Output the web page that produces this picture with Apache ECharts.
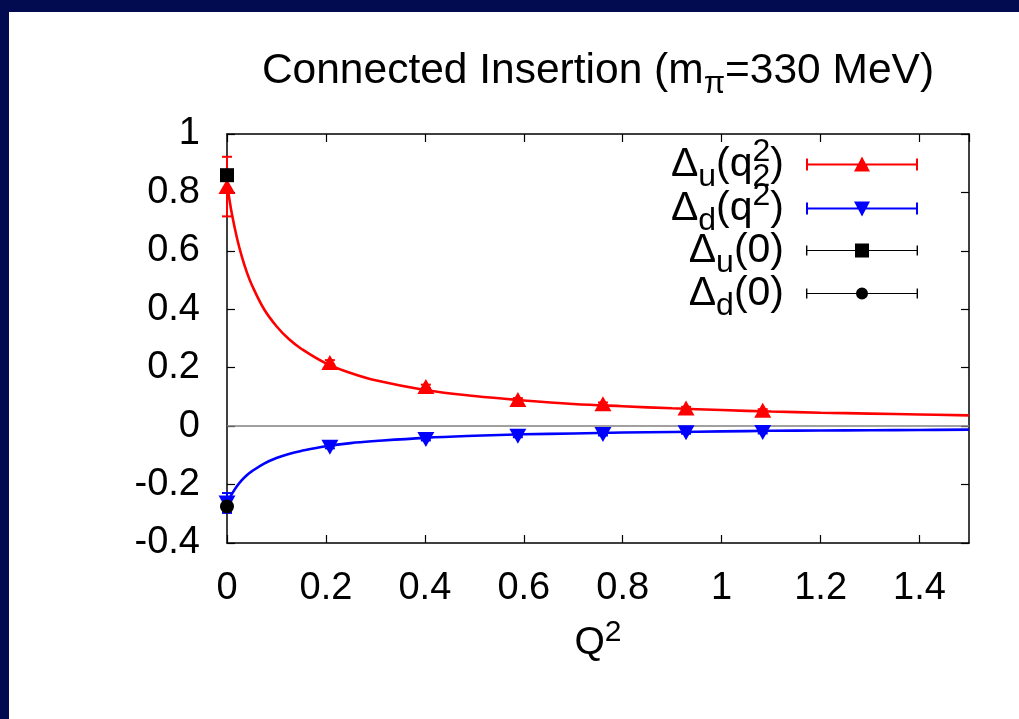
<!DOCTYPE html>
<html>
<head>
<meta charset="utf-8">
<script src="https://cdn.jsdelivr.net/npm/echarts@6/dist/echarts.min.js"></script>
<style>
html,body{margin:0;padding:0;background:#fff;}
#c{width:1019px;height:719px;}
</style>
</head>
<body>
<div id="c"></div>
<script>
// ---- data ----
const q2Lattice = [0, 0.208, 0.402, 0.588, 0.760, 0.928, 1.083];
const duValues = [0.82, 0.218, 0.136, 0.091, 0.077, 0.062, 0.054];
const duErrors = [0.102, 0.008, 0.006, 0.005, 0.004, 0.004, 0.004];
const ddValues = [-0.263, -0.072, -0.046, -0.035, -0.029, -0.023, -0.022];
const ddErrors = [0.034, 0.004, 0.003, 0.003, 0.003, 0.003, 0.003];
const du0Point = [0, 0.859];
const du0Error = [0.01];
const dd0Point = [0, -0.275];
const dd0Error = [0.01];
const fitQ2 = [0, 0.005, 0.01, 0.02, 0.03, 0.04, 0.05, 0.075, 0.1, 0.125, 0.15, 0.2, 0.25, 0.3, 0.4, 0.5, 0.6, 0.7, 0.8, 0.9, 1.0, 1.1, 1.2, 1.3, 1.4, 1.5];
const fitDu = [0.83, 0.775, 0.725, 0.645, 0.580, 0.527, 0.484, 0.400, 0.342, 0.298, 0.265, 0.215, 0.182, 0.157, 0.124, 0.103, 0.088, 0.076, 0.068, 0.061, 0.055, 0.050, 0.046, 0.043, 0.040, 0.037];
const fitDd = [-0.265, -0.247, -0.232, -0.206, -0.185, -0.168, -0.155, -0.128, -0.109, -0.095, -0.085, -0.069, -0.058, -0.051, -0.040, -0.033, -0.028, -0.025, -0.022, -0.020, -0.018, -0.016, -0.015, -0.014, -0.013, -0.012];
const xTicks = ['0', '0.2', '0.4', '0.6', '0.8', '1', '1.2', '1.4'];
const yTicks = ['-0.4', '-0.2', '0', '0.2', '0.4', '0.6', '0.8', '1'];
const seriesNames = ['du', 'dd', 'du0', 'dd0'];
const seriesColors = {du: '#ff0000', dd: '#0000ff', du0: '#000000', dd0: '#000000'};

const FONT = 'Liberation Sans';
const zip = (xs, ys) => xs.map((x, i) => [x, ys[i]]);
const errData = (xs, ys, es) => xs.map((x, i) => [x, ys[i], es[i]]);

function errorBarSeries(name, data, color, width) {
  return {
    type: 'custom', name: name, data: data, z: 3,
    itemStyle: {color: color},
    encode: {x: 0, y: 1},
    renderItem: function (params, api) {
      const x = api.value(0), y = api.value(1), e = api.value(2);
      const p1 = api.coord([x, y - e]);
      const p2 = api.coord([x, y + e]);
      const cw = 5;
      const st = {stroke: color, lineWidth: width};
      return {type: 'group', children: [
        {type: 'line', shape: {x1: p1[0], y1: p1[1], x2: p2[0], y2: p2[1]}, style: st},
        {type: 'line', shape: {x1: p1[0] - cw, y1: p1[1], x2: p1[0] + cw, y2: p1[1]}, style: st},
        {type: 'line', shape: {x1: p2[0] - cw, y1: p2[1], x2: p2[0] + cw, y2: p2[1]}, style: st}
      ]};
    }
  };
}

const legendLine = 'M0 7 H112 V9 H0 Z M0 2 H2 V14 H0 Z M110 2 H112 V14 H110 Z ';
const legendLineThin = 'M0 7.4 H112 V8.6 H0 Z M0 3 H1.4 V13 H0 Z M110.6 3 H112 V13 H110.6 Z ';
const icons = {
  du: 'path://M0 0 H0.01 V16 H0 Z ' + legendLine + 'M56 0 L64 15 L48 15 Z',
  dd: 'path://M0 0 H0.01 V16 H0 Z ' + legendLine + 'M48 1 L64 1 L56 16 Z',
  du0: 'path://M0 0 H0.01 V16 H0 Z ' + legendLineThin + 'M49 1 H63 V15 H49 Z',
  dd0: 'path://M0 0 H0.01 V16 H0 Z ' + legendLineThin + 'M62 8 A6 6 0 1 1 50 8 A6 6 0 1 1 62 8 Z'
};
const legendLabels = {
  du: '{n|Δ}{s|u}{n|(q}{sp|2}{s|2}{n|)}{g|}',
  dd: '{n|Δ}{s|d}{n|(q}{sp| }{sup|2}{n|)}{g|}',
  du0: '{n|Δ}{s|u}{n|(0)}{sp| }{g|}',
  dd0: '{n|Δ}{s|d}{n|(0)}{sp| }{g|}'
};
const legendRowTops = [136, 180, 222, 265];

const chart = echarts.init(document.getElementById('c'), null, {renderer: 'canvas'});
const axisCommon = {
  axisLine: {show: true, onZero: false, lineStyle: {color: '#000', width: 1.5}},
  axisTick: {show: true, inside: true, length: 8, lineStyle: {color: '#000', width: 1.2}},
  splitLine: {show: false}
};
const legendText = {
  fontFamily: FONT, fontSize: 41, color: '#000',
  rich: {
    n: {fontFamily: FONT, fontSize: 41, lineHeight: 43, verticalAlign: 'middle', align: 'left'},
    s: {fontFamily: FONT, fontSize: 32, height: 17, lineHeight: 17, verticalAlign: 'bottom', align: 'left'},
    sp: {fontFamily: FONT, fontSize: 32, height: 18, lineHeight: 18, verticalAlign: 'top', align: 'left', width: 0},
    sup: {fontFamily: FONT, fontSize: 32, height: 18, lineHeight: 18, verticalAlign: 'top', align: 'left'},
    g: {width: 17, lineHeight: 43, align: 'left'}
  }
};
const legends = seriesNames.map((n, i) => ({
  orient: 'vertical', right: 101, top: legendRowTops[i], align: 'right', padding: 0,
  itemWidth: 112, itemHeight: 16, itemGap: 0, symbolKeepAspect: false,
  selectedMode: false,
  textStyle: legendText,
  formatter: function (name) { return legendLabels[name]; },
  data: [{name: n, icon: icons[n], itemStyle: {color: seriesColors[n], borderWidth: 0}}]
}));

const option = {
  backgroundColor: '#ffffff',
  animation: false,
  textStyle: {fontFamily: FONT},
  graphic: [
    {type: 'rect', shape: {x: 0, y: 0, width: 1019, height: 12}, style: {fill: '#020a50'}, z: 100},
    {type: 'rect', shape: {x: 0, y: 0, width: 9, height: 719}, style: {fill: '#020a50'}, z: 100}
  ],
  title: {
    text: '{n|Connected Insertion (m}{s|π}{n|=330 MeV)}',
    left: 593, top: 41, textAlign: 'center',
    textStyle: {
      fontFamily: FONT, fontSize: 42.5, fontWeight: 'normal', color: '#000', lineHeight: 50,
      rich: {
        n: {fontFamily: FONT, fontSize: 42.5, lineHeight: 50, verticalAlign: 'middle', align: 'left'},
        s: {fontFamily: FONT, fontSize: 31, verticalAlign: 'bottom', height: 24, lineHeight: 24, align: 'left'}
      }
    }
  },
  grid: {left: 227, right: 50, top: 134, bottom: 176, containLabel: false},
  legend: legends,
  xAxis: [
    Object.assign({}, axisCommon, {
      type: 'value', min: 0, max: 1.5, interval: 0.2, position: 'bottom',
      axisLabel: {show: true, fontFamily: FONT, fontSize: 38, color: '#000', margin: 27, showMaxLabel: false,
        formatter: function (v) { const i = Math.round(v / 0.2); return Math.abs(v - i * 0.2) < 1e-6 ? xTicks[i] : ''; }},
      name: 'Q{sup|2}', nameLocation: 'middle', nameGap: 75,
      nameTextStyle: {fontFamily: FONT, fontSize: 39, color: '#000',
        rich: {sup: {fontFamily: FONT, fontSize: 30, verticalAlign: 'top', lineHeight: 50}}}
    }),
    Object.assign({}, axisCommon, {
      type: 'value', min: 0, max: 1.5, interval: 0.2, position: 'top',
      axisLabel: {show: false}
    })
  ],
  yAxis: [
    Object.assign({}, axisCommon, {
      type: 'value', min: -0.4, max: 1, interval: 0.2, position: 'left',
      axisLabel: {show: true, fontFamily: FONT, fontSize: 38, color: '#000', margin: 27,
        formatter: function (v) { const i = Math.round((v + 0.4) / 0.2); return yTicks[i]; }}
    }),
    Object.assign({}, axisCommon, {
      type: 'value', min: -0.4, max: 1, interval: 0.2, position: 'right',
      axisLabel: {show: false}
    })
  ],
  series: [
    {
      type: 'line', name: 'fitDu', data: zip(fitQ2, fitDu), smooth: 0.4, showSymbol: false, symbol: 'none',
      lineStyle: {color: '#ff0000', width: 2.6}, z: 2, silent: true,
      markLine: {silent: true, symbol: 'none', label: {show: false},
        lineStyle: {color: '#808080', width: 1.5, type: 'solid'}, data: [{yAxis: 0}], z: 1}
    },
    {
      type: 'line', name: 'fitDd', data: zip(fitQ2, fitDd), smooth: 0.4, showSymbol: false, symbol: 'none',
      lineStyle: {color: '#0000ff', width: 2.6}, z: 2, silent: true
    },
    errorBarSeries('du', errData(q2Lattice, duValues, duErrors), '#ff0000', 2),
    errorBarSeries('dd', errData(q2Lattice, ddValues, ddErrors), '#0000ff', 2),
    {type: 'scatter', name: 'du', data: zip(q2Lattice, duValues), symbol: 'triangle', symbolSize: [17, 15],
      itemStyle: {color: '#ff0000', opacity: 1}, z: 3},
    {type: 'scatter', name: 'dd', data: zip(q2Lattice, ddValues), symbol: 'triangle', symbolRotate: 180, symbolSize: [17, 15],
      itemStyle: {color: '#0000ff', opacity: 1}, z: 3},
    errorBarSeries('du0', errData([du0Point[0]], [du0Point[1]], du0Error), '#000000', 1.2),
    errorBarSeries('dd0', errData([dd0Point[0]], [dd0Point[1]], dd0Error), '#000000', 1.2),
    {type: 'scatter', name: 'du0', data: [du0Point], symbol: 'rect', symbolSize: 14,
      itemStyle: {color: '#000000', opacity: 1}, z: 4},
    {type: 'scatter', name: 'dd0', data: [dd0Point], symbol: 'circle', symbolSize: 14,
      itemStyle: {color: '#000000', opacity: 1}, z: 4}
  ]
};
chart.setOption(option);
</script>
</body>
</html>
